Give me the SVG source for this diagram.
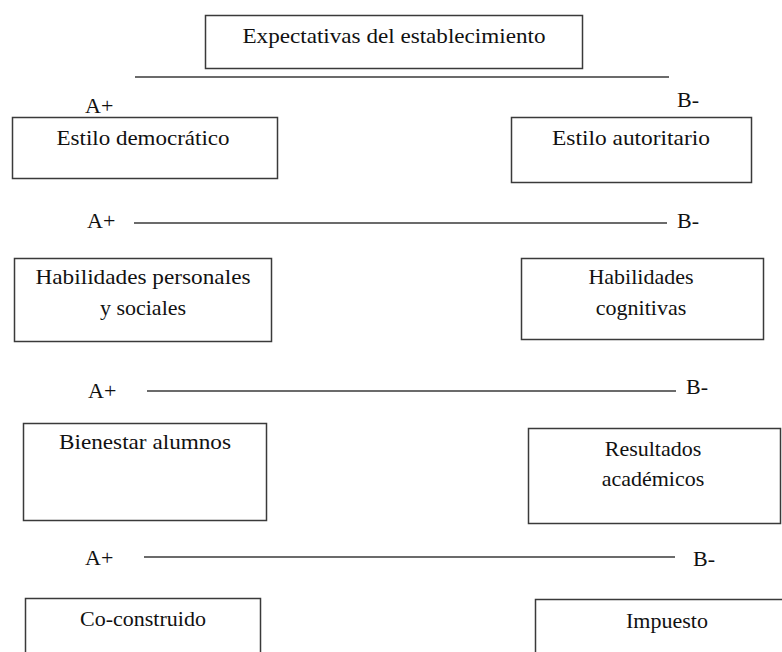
<svg xmlns="http://www.w3.org/2000/svg" width="782" height="652" viewBox="0 0 782 652" font-family="'Liberation Serif', 'DejaVu Serif', serif">
<style>
.box{fill:#fff;stroke:#3a3a3a;stroke-width:1.5}
.t{font-size:22px;fill:#111}
.c{text-anchor:middle}
.ln{stroke:#3a3a3a;stroke-width:1.5}
</style>
<rect width="782" height="652" fill="#fff"/>
<g id="expectativas"><rect class="box" x="205.5" y="15.5" width="377" height="53"/><text class="t c" x="394" y="43" textLength="303" lengthAdjust="spacingAndGlyphs">Expectativas del establecimiento</text></g>
<g id="connectors">
<line class="ln" x1="135" y1="77" x2="669" y2="77"/>
<line class="ln" x1="134" y1="223" x2="667" y2="223"/>
<line class="ln" x1="147" y1="391" x2="676" y2="391"/>
<line class="ln" x1="144" y1="557" x2="675" y2="557"/>
</g>
<g id="labels">
<text class="t" x="85" y="113">A+</text><text class="t" x="677" y="107">B-</text>
<text class="t" x="87" y="228">A+</text><text class="t" x="677" y="228">B-</text>
<text class="t" x="88" y="398">A+</text><text class="t" x="686" y="394">B-</text>
<text class="t" x="85" y="565">A+</text><text class="t" x="693" y="566">B-</text>
</g>
<g id="democratico"><rect class="box" x="12.5" y="117.5" width="265" height="61"/><text class="t c" x="143" y="145" textLength="173" lengthAdjust="spacingAndGlyphs">Estilo democrático</text></g>
<g id="autoritario"><rect class="box" x="511.5" y="117.5" width="240" height="65"/><text class="t c" x="631" y="145" textLength="158" lengthAdjust="spacingAndGlyphs">Estilo autoritario</text></g>
<g id="personales"><rect class="box" x="14.5" y="258.5" width="257" height="83"/><text class="t c" x="143" y="284" textLength="215" lengthAdjust="spacingAndGlyphs">Habilidades personales</text><text class="t c" x="143" y="315">y sociales</text></g>
<g id="cognitivas"><rect class="box" x="521.5" y="258.5" width="242" height="81"/><text class="t c" x="641" y="284">Habilidades</text><text class="t c" x="641" y="315">cognitivas</text></g>
<g id="bienestar"><rect class="box" x="23.5" y="423.5" width="243" height="97"/><text class="t c" x="145" y="449" textLength="172" lengthAdjust="spacingAndGlyphs">Bienestar alumnos</text></g>
<g id="resultados"><rect class="box" x="528.5" y="428.5" width="252" height="95"/><text class="t c" x="653" y="456">Resultados</text><text class="t c" x="653" y="486">académicos</text></g>
<g id="coconstruido"><rect class="box" x="25.5" y="598.5" width="235" height="60"/><text class="t c" x="143" y="626">Co-construido</text></g>
<g id="impuesto"><rect class="box" x="535.5" y="599.5" width="260" height="60"/><text class="t c" x="667" y="628">Impuesto</text></g>
</svg>
